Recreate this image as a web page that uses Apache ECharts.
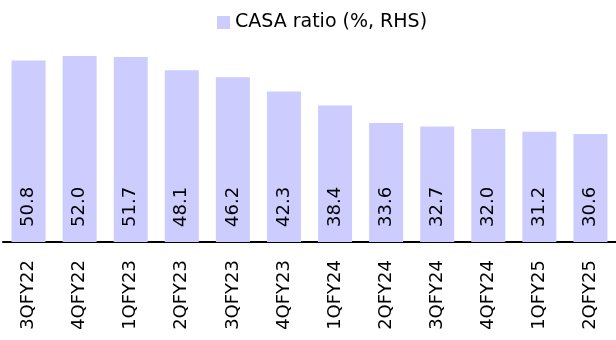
<!DOCTYPE html>
<html>
<head>
<meta charset="utf-8">
<script src="https://cdn.jsdelivr.net/npm/echarts@6/dist/echarts.min.js"></script>
<style>
  html, body { margin: 0; padding: 0; background: #ffffff; }
  #chart { width: 616px; height: 340px; }
</style>
</head>
<body>
<div id="chart"></div>
<script>
// Quarterly CASA ratio, in percent
const quarters = ['3QFY22', '4QFY22', '1QFY23', '2QFY23', '3QFY23', '4QFY23',
                  '1QFY24', '2QFY24', '3QFY24', '4QFY24', '1QFY25', '2QFY25'];
const casaRatio = [50.8, 52.0, 51.7, 48.1, 46.2, 42.3, 38.4, 33.6, 32.7, 32.0, 31.2, 30.6];
const seriesName = 'CASA ratio (%, RHS)';

const font = 'DejaVu Sans';
const chart = echarts.init(document.getElementById('chart'), null, { renderer: 'canvas' });

chart.setOption({
  animation: false,
  legend: {
    data: [seriesName],
    left: 212,
    top: 8,
    icon: 'rect',
    itemWidth: 13,
    itemHeight: 13,
    itemGap: 5,
    textStyle: { fontFamily: font, fontSize: 19, color: '#000000' }
  },
  grid: { left: 3, right: -3, top: 56, bottom: 98, containLabel: false },
  xAxis: {
    type: 'category',
    data: quarters,
    axisLine: { show: true, lineStyle: { color: '#000000', width: 2 } },
    axisTick: { show: false },
    axisLabel: {
      rotate: 90,
      margin: 18,
      interval: 0,
      fontFamily: font,
      fontSize: 18,
      color: '#000000'
    }
  },
  yAxis: {
    type: 'value',
    show: false,
    min: 1,
    max: 52,
    splitLine: { show: false }
  },
  series: [{
    name: seriesName,
    type: 'bar',
    data: casaRatio,
    barWidth: 34,
    itemStyle: { color: '#ccccff' },
    label: {
      show: true,
      position: 'insideBottom',
      rotate: 90,
      align: 'left',
      verticalAlign: 'middle',
      distance: 15,
      fontFamily: font,
      fontSize: 18,
      color: '#000000',
      formatter: p => p.value.toFixed(1)
    }
  }]
});
</script>
</body>
</html>
